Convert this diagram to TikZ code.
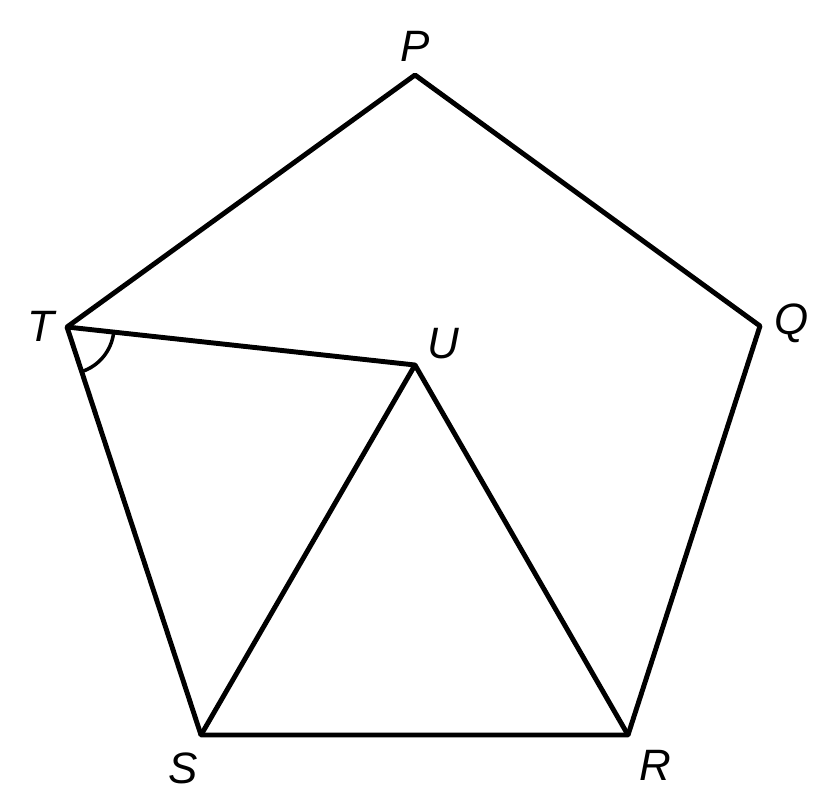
\documentclass[tikz,border=0pt]{standalone}
\usepackage{fontspec}
\setmainfont{Liberation Sans}
\usepackage{tikz}
\usetikzlibrary{angles,positioning}

\begin{document}
\begin{tikzpicture}[x=0.02cm,y=-0.02cm,line join=round,
  side/.style={line width=2.8pt,black},
  vlabel/.style={font=\fontsize{25}{29}\selectfont\itshape,inner sep=0pt}]
\useasboundingbox (0,0) rectangle (834,811);
\coordinate (P) at (415,75);
\coordinate (Q) at (760,326);
\coordinate (R) at (628,735);
\coordinate (S) at (201,735);
\coordinate (T) at (67,327);
\coordinate (U) at (415,365);
\draw[side] (P) -- (Q) -- (R) -- (S) -- (T) -- cycle;
\draw[side] (T) -- (U) -- (S);
\draw[side] (U) -- (R);
\pic [draw,line width=2pt,angle radius=0.94cm] {angle = S--T--U};
\node[vlabel] (lP) at (415,46) {P};
\node[vlabel] (lQ) at (792,323) {Q};
\node[vlabel] (lR) at (655,765) {R};
\node[vlabel] (lS) at (183,768) {S};
\node[vlabel] (lT) at (41,326) {T};
\node[vlabel] (lU) at (443,344) {U};
\end{tikzpicture}
\end{document}
